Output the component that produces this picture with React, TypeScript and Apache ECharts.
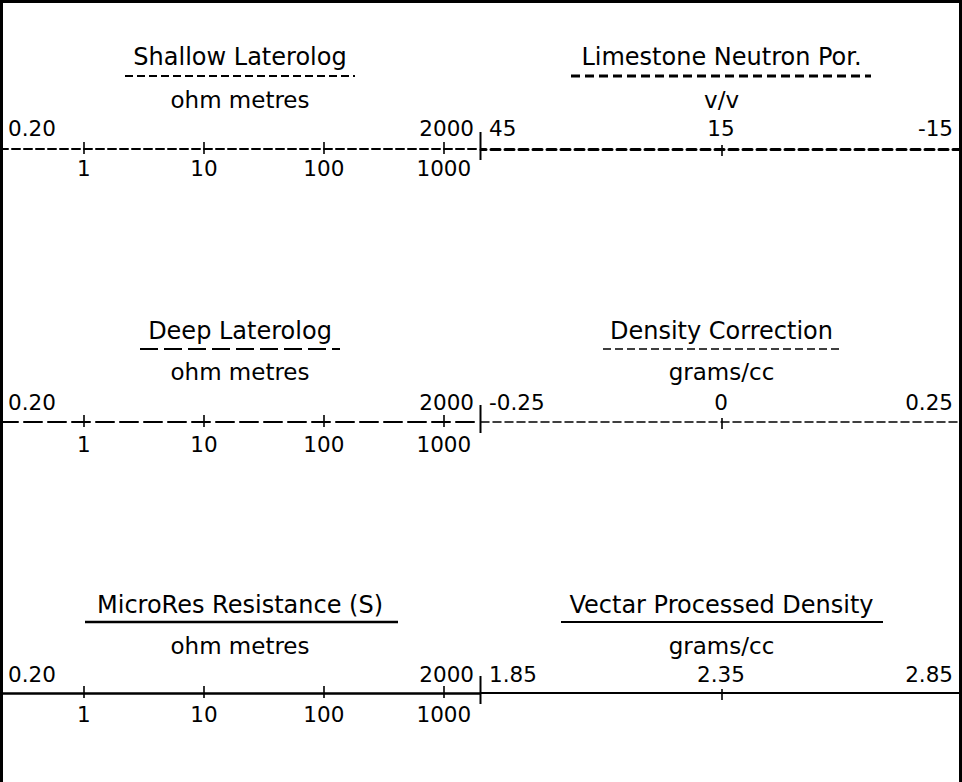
import React, { useEffect, useRef } from "react";
import * as echarts from "echarts";

// ---------- data ----------
const resistivityCurves = ["Shallow Laterolog", "Deep Laterolog", "MicroRes Resistance (S)"];
const resistivityUnits = ["ohm metres", "ohm metres", "ohm metres"];
const resistivityMin = 0.2;
const resistivityMax = 2000;
const resistivityEndLabels = ["0.20", "2000"];
const resistivityTicks = [1, 10, 100, 1000];
const resistivityTickLabels = ["1", "10", "100", "1000"];

const rightCurves = ["Limestone Neutron Por.", "Density Correction", "Vectar Processed Density"];
const rightUnits = ["v/v", "grams/cc", "grams/cc"];
const rightStartValues = [45, -0.25, 1.85];
const rightMidValues = [15, 0, 2.35];
const rightEndValues = [-15, 0.25, 2.85];
const rightStartLabels = ["45", "-0.25", "1.85"];
const rightMidLabels = ["15", "0", "2.35"];
const rightEndLabels = ["-15", "0.25", "2.85"];

// ---------- layout / style ----------
const W = 962;
const H = 782;
const FONT = '"DejaVu Sans", "Liberation Sans", sans-serif';
const TITLE_SIZE = 24;
const UNIT_SIZE = 23;
const NUM_SIZE = 21.5;
const LEFT_X0 = 0;
const LEFT_W = 480;
const RIGHT_X0 = 481;
const RIGHT_W = 481;
const rowLineY = [148, 421, 692];
const rowTitleY = [57, 331, 605];
const rowUnderlineY = [76, 349, 622];
const rowUnitY = [100, 372, 646];
const topLabelMargin = [9, 8, 7];
const bottomLabelMargin = [8, 11, 10];
const leftUnderline = [[125, 355], [140, 340], [85, 398]];
const rightUnderline = [[571, 871], [603, 840], [561, 883]];
const leftStyles: any[] = [
  { type: [8, 4], width: 2 },
  { type: [18, 6], width: 2 },
  { type: "solid", width: 2.5 },
];
const rightStyles: any[] = [
  { type: [9, 5], width: 3 },
  { type: [8, 4], width: 1.5 },
  { type: "solid", width: 2 },
];
const TICK_LEN = 7;

function nearestIndex(values: number[], v: number, log: boolean) {
  let best = 0;
  let bd = Infinity;
  values.forEach((t, i) => {
    const d = log ? Math.abs(Math.log10(t) - Math.log10(v)) : Math.abs(t - v);
    if (d < bd) {
      bd = d;
      best = i;
    }
  });
  return best;
}

function dashOf(t: any) {
  return Array.isArray(t) ? t : undefined;
}

function buildOption() {
  const grid: any[] = [];
  const xAxis: any[] = [];
  const yAxis: any[] = [];
  const graphic: any[] = [];
  const labelBase = { color: "#000", fontFamily: FONT, fontSize: NUM_SIZE };
  const tickStyle = { color: "#000", width: 1.6 };

  for (let r = 0; r < 3; r++) {
    const y = rowLineY[r];

    // ---- left (resistivity, log) track ----
    const gl = grid.length;
    grid.push({ left: LEFT_X0, width: LEFT_W, top: y, height: 1, containLabel: false, outerBoundsMode: "none" });
    yAxis.push({ gridIndex: gl, type: "value", min: 0, max: 1, show: false });
    const endVals = [resistivityMin, resistivityMax];
    xAxis.push({
      gridIndex: gl,
      type: "log",
      logBase: 10,
      min: resistivityMin,
      max: resistivityMax,
      position: "top",
      axisLine: { show: true, lineStyle: { color: "#000", ...leftStyles[r] } },
      axisTick: { show: true, customValues: resistivityTicks, length: TICK_LEN, lineStyle: tickStyle },
      axisLabel: {
        ...labelBase,
        show: true,
        customValues: endVals,
        showMinLabel: true,
        showMaxLabel: true,
        formatter: (v: number) => resistivityEndLabels[nearestIndex(endVals, v, true)],
        alignMinLabel: "left",
        alignMaxLabel: "right",
        padding: [0, 6, 0, 8],
        margin: topLabelMargin[r],
      },
      splitLine: { show: false },
    });
    xAxis.push({
      gridIndex: gl,
      type: "log",
      logBase: 10,
      min: resistivityMin,
      max: resistivityMax,
      position: "bottom",
      axisLine: { show: false },
      axisTick: { show: true, customValues: resistivityTicks, length: TICK_LEN - 2, lineStyle: tickStyle },
      axisLabel: {
        ...labelBase,
        show: true,
        customValues: resistivityTicks,
        formatter: (v: number) => resistivityTickLabels[nearestIndex(resistivityTicks, v, true)],
        margin: bottomLabelMargin[r],
      },
      splitLine: { show: false },
    });

    // ---- right (linear) track ----
    const gr = grid.length;
    grid.push({ left: RIGHT_X0, width: RIGHT_W, top: y, height: 1, containLabel: false, outerBoundsMode: "none" });
    yAxis.push({ gridIndex: gr, type: "value", min: 0, max: 1, show: false });
    const a = rightStartValues[r];
    const m = rightMidValues[r];
    const b = rightEndValues[r];
    const inverse = a > b;
    const mn = Math.min(a, b);
    const mx = Math.max(a, b);
    const vals = [mn, m, mx];
    const labs = inverse
      ? [rightEndLabels[r], rightMidLabels[r], rightStartLabels[r]]
      : [rightStartLabels[r], rightMidLabels[r], rightEndLabels[r]];
    xAxis.push({
      gridIndex: gr,
      type: "value",
      min: mn,
      max: mx,
      inverse,
      position: "top",
      axisLine: { show: true, lineStyle: { color: "#000", ...rightStyles[r] } },
      axisTick: { show: true, customValues: [m], length: TICK_LEN - 3, lineStyle: tickStyle },
      axisLabel: {
        ...labelBase,
        show: true,
        customValues: vals,
        showMinLabel: true,
        showMaxLabel: true,
        formatter: (v: number) => labs[nearestIndex(vals, v, false)],
        alignMinLabel: inverse ? "right" : "left",
        alignMaxLabel: inverse ? "left" : "right",
        padding: [0, 9, 0, 8],
        margin: topLabelMargin[r],
      },
      splitLine: { show: false },
    });
    xAxis.push({
      gridIndex: gr,
      type: "value",
      min: mn,
      max: mx,
      inverse,
      position: "bottom",
      axisLine: { show: false },
      axisTick: { show: true, customValues: [m], length: TICK_LEN, lineStyle: tickStyle },
      axisLabel: { show: false },
      splitLine: { show: false },
    });

    // ---- header texts & legend lines ----
    const lc = LEFT_X0 + LEFT_W / 2;
    const rc = RIGHT_X0 + RIGHT_W / 2;
    const textEl = (x: number, yy: number, text: string, size: number) => ({
      type: "text",
      x,
      y: yy,
      style: { text, fill: "#000", fontFamily: FONT, fontSize: size, align: "center", verticalAlign: "middle" },
    });
    graphic.push(textEl(lc, rowTitleY[r], resistivityCurves[r], TITLE_SIZE));
    graphic.push(textEl(rc, rowTitleY[r], rightCurves[r], TITLE_SIZE));
    graphic.push(textEl(lc, rowUnitY[r], resistivityUnits[r], UNIT_SIZE));
    graphic.push(textEl(rc, rowUnitY[r], rightUnits[r], UNIT_SIZE));
    graphic.push({
      type: "line",
      shape: { x1: leftUnderline[r][0], y1: rowUnderlineY[r], x2: leftUnderline[r][1], y2: rowUnderlineY[r] },
      style: { stroke: "#000", lineWidth: leftStyles[r].width, lineDash: dashOf(leftStyles[r].type) },
    });
    graphic.push({
      type: "line",
      shape: { x1: rightUnderline[r][0], y1: rowUnderlineY[r], x2: rightUnderline[r][1], y2: rowUnderlineY[r] },
      style: { stroke: "#000", lineWidth: rightStyles[r].width, lineDash: dashOf(rightStyles[r].type) },
    });
    // track divider
    graphic.push({
      type: "line",
      shape: { x1: 480.5, y1: y - 16, x2: 480.5, y2: y + 12 },
      style: { stroke: "#000", lineWidth: 2 },
    });
  }

  // frame
  graphic.push({ type: "line", shape: { x1: 1.5, y1: 0, x2: 1.5, y2: H }, style: { stroke: "#000", lineWidth: 3 } });
  graphic.push({ type: "line", shape: { x1: 0, y1: 1.5, x2: W, y2: 1.5 }, style: { stroke: "#000", lineWidth: 3 } });
  graphic.push({ type: "line", shape: { x1: W - 1.5, y1: 0, x2: W - 1.5, y2: H }, style: { stroke: "#000", lineWidth: 3 } });

  return {
    animation: false,
    backgroundColor: "#fff",
    grid,
    xAxis,
    yAxis,
    graphic,
    series: [],
  };
}

export default function App() {
  const ref = useRef<HTMLDivElement>(null);
  useEffect(() => {
    const chart = echarts.init(ref.current!, null, { renderer: "svg" });
    chart.setOption(buildOption() as any);
    return () => chart.dispose();
  }, []);
  return (
    <div
      ref={ref}
      style={{ position: "absolute", left: 0, top: 0, width: W, height: H, background: "#fff" }}
    />
  );
}
